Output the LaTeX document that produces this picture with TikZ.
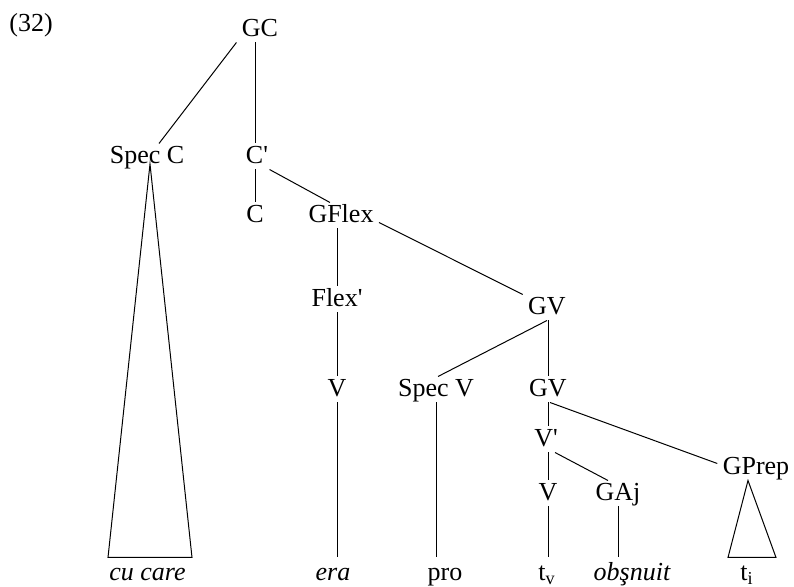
\documentclass[tikz,border=0pt]{standalone}
\usepackage{fontspec}
\setmainfont{Liberation Serif}
\usepackage{tikz}

\begin{document}
\begin{tikzpicture}[x=0.5pt,y=-0.5pt,line width=0.5pt,
    % styles
    cat/.style={anchor=base,inner sep=2.5pt,text height=0.75em,text depth=0pt,
      font=\fontsize{13}{15}\selectfont},
    leaf/.style={cat,text height=0.9em},
    word/.style={leaf,font=\fontsize{13}{15}\selectfont\itshape}]

  \useasboundingbox (0,0) rectangle (794,587);

  % example number
  \node[cat,anchor=base west,inner sep=0pt] (num) at (9,32) {(32)};

  % categories
  \node[cat] (gc) at (260,37) {GC};
  \node[cat] (specc) at (147,164) {Spec C};
  \node[cat] (cbar) at (257,164) {C\textquotesingle};
  \node[cat] (c) at (255,223) {C};
  \node[cat] (gflex) at (341,223) {GFlex};
  \node[cat] (flexbar) at (337,307) {Flex\textquotesingle};
  \node[cat] (gv) at (547,315) {GV};
  \node[cat] (v) at (337,397) {V};
  \node[cat] (specv) at (436,397) {Spec V};
  \node[cat] (gvb) at (548,397) {GV};
  \node[cat] (vbar) at (546,447) {V\textquotesingle};
  \node[cat] (vb) at (548,501) {V};
  \node[cat] (gaj) at (618,501) {GAj};
  \node[cat] (gprep) at (756,475) {GPrep};

  % words
  \node[word] (cucare) at (147.5,581) {cu care};
  \node[word] (era) at (333,581) {era};
  \node[leaf] (pro) at (445,581) {pro};
  \node[leaf] (tv) at (547,581) {t\textsubscript{v}};
  \node[word] (obsnuit) at (632,581) {obşnuit};
  \node[leaf] (ti) at (747,581) {t\textsubscript{i}};

  % branches
  \draw (gc.south west) -- ([xshift=6pt]specc.north);
  \draw (gc.south -| c.north) -- (cbar.north -| c.north);
  \draw (cbar.south -| c.north) -- (c.north);
  \draw ([xshift=-2pt]cbar.south east) -- ([xshift=-5.5pt]gflex.north);
  \draw (gflex.south -| flexbar.north) -- (flexbar.north);
  \draw ([yshift=3pt]gflex.south east) -- (gv.north west);
  \draw (flexbar.south) -- (v.north);
  \draw (gv.south) -- ([xshift=1pt]specv.north);
  \draw (gv.south -| gvb.north) -- (gvb.north);
  \draw (gvb.south) -- (gvb.south |- vbar.north);
  \draw ([xshift=1pt]gvb.south) -- ([yshift=2pt]gprep.west);
  \draw (vbar.south -| vb.north) -- (vb.north);
  \draw ([xshift=4.5pt]vbar.south) -- ([xshift=-5pt]gaj.north);

  % terminals
  \draw (v.south) -- (v.south |- era.north);
  \draw (specv.south) -- (specv.south |- pro.north);
  \draw (vb.south) -- (vb.south |- tv.north);
  \draw (gaj.south) -- (gaj.south |- obsnuit.north);

  % triangles
  \draw ([xshift=1.5pt]specc.base) -- ([xshift=-19.75pt]cucare.north)
    -- ([xshift=22.25pt]cucare.north) -- cycle;
  \draw ([xshift=-4pt]gprep.south) -- ([xshift=-9.5pt]ti.north)
    -- ([xshift=14.5pt]ti.north) -- cycle;
\end{tikzpicture}
\end{document}
